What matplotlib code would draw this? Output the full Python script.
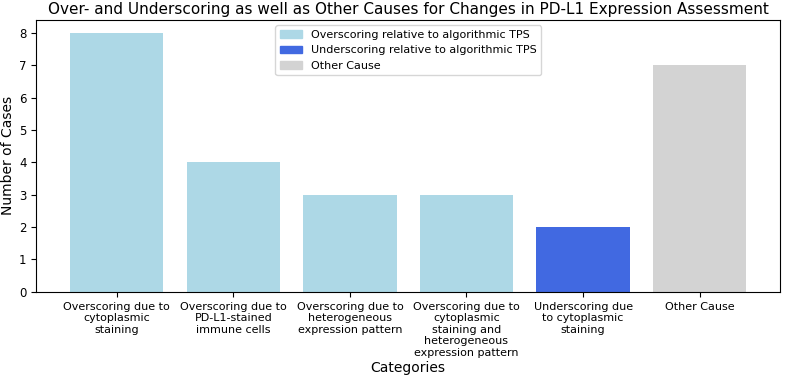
import matplotlib.pyplot as plt
from matplotlib.patches import Patch

# categories and counts
categories = ['Overscoring due to\ncytoplasmic\nstaining',
              'Overscoring due to\nPD-L1-stained\nimmune cells',
              'Overscoring due to\nheterogeneous\nexpression pattern',
              'Overscoring due to\ncytoplasmic\nstaining and\nheterogeneous\nexpression pattern',
              'Underscoring due\nto cytoplasmic\nstaining',
              'Other Cause']
counts = [8, 4, 3, 3, 2, 7]
colors = ['lightblue', 'lightblue', 'lightblue', 'lightblue', 'royalblue', 'lightgray']

legend_labels = ['Overscoring relative to algorithmic TPS',
                 'Underscoring relative to algorithmic TPS',
                 'Other Cause']
legend_colors = ['lightblue', 'royalblue', 'lightgray']

fig, ax = plt.subplots(figsize=(7.88, 3.82), dpi=100)
ax.bar(range(len(categories)), counts, color=colors)
ax.set_xticks(range(len(categories)))
ax.set_xticklabels(categories, fontsize=8)
ax.tick_params(axis='y', labelsize=8.5)
ax.set_ylabel('Number of Cases', fontsize=10, labelpad=3)
ax.set_xlabel('Categories', fontsize=10, labelpad=2)
ax.set_title('Over- and Underscoring as well as Other Causes for Changes in PD-L1 Expression Assessment',
             fontsize=11, pad=4)

handles = [Patch(color=c, label=l) for c, l in zip(legend_colors, legend_labels)]
ax.legend(handles=handles, loc='upper center', fontsize=8)

fig.subplots_adjust(left=0.046, right=0.99, top=0.948, bottom=0.236)
fig.savefig('out.png')
